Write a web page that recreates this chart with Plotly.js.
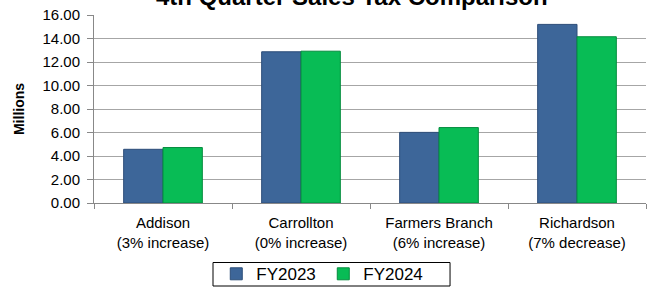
<!DOCTYPE html>
<html>
<head>
<meta charset="utf-8">
<script src="https://cdn.plot.ly/plotly-3.0.1.min.js"></script>
<style>html,body{margin:0;padding:0;background:#fff;}#chart{width:649px;height:295px;}</style>
</head>
<body>
<div id="chart"></div>
<script>
const categories = ["Addison<br>(3% increase)", "Carrollton<br>(0% increase)", "Farmers Branch<br>(6% increase)", "Richardson<br>(7% decrease)"];
const fy2023 = [4.57, 12.87, 6.01, 15.20];
const fy2024 = [4.72, 12.92, 6.42, 14.15];
const seriesNames = ["FY2023", "FY2024"];
const yTicks = [0, 2, 4, 6, 8, 10, 12, 14, 16];

const font = "Arial, 'Liberation Sans', sans-serif";
const data = [
  {type: "bar", name: seriesNames[0], x: categories, y: fy2023,
   marker: {color: "#3D6699", line: {color: "#2C4D78", width: 1}}},
  {type: "bar", name: seriesNames[1], x: categories, y: fy2024,
   marker: {color: "#08BC55", line: {color: "#058C3E", width: 1}}}
];
const layout = {
  width: 649, height: 295,
  margin: {l: 94, r: 3, t: 15, b: 92},
  paper_bgcolor: "#fff", plot_bgcolor: "#fff",
  font: {family: font, color: "#000", size: 15},
  bargap: 0.43, bargroupgap: 0,
  showlegend: true,
  legend: {orientation: "h", x: 0.2215, xanchor: "left", y: -0.379, yanchor: "middle",
           borderwidth: 0, bgcolor: "rgba(0,0,0,0)", font: {size: 17, family: font},
           entrywidth: 62, traceorder: "normal"},
  xaxis: {type: "category", tickson: "boundaries", ticks: "outside", ticklen: 5,
          tickcolor: "#888", showline: true, linecolor: "#888", linewidth: 1,
          showgrid: false, tickfont: {size: 15, family: font}, ticklabelstandoff: 6},
  yaxis: {range: [0, 16], tickvals: yTicks, ticktext: yTicks.map(v => v.toFixed(2)),
          ticks: "outside", ticklen: 6, tickcolor: "#888", showline: true, linecolor: "#888",
          showgrid: true, gridcolor: "#A6A6A6", gridwidth: 1, zeroline: false,
          tickfont: {size: 15, family: font}, ticklabelstandoff: 4,
          title: {text: "<b>Millions</b>", font: {size: 14, family: font}, standoff: 14}},
  shapes: [{type: "rect", xref: "paper", yref: "paper", x0: 0.2156, x1: 0.645, y0: -0.4415, y1: -0.3165,
            line: {color: "#000", width: 1}, fillcolor: "rgba(0,0,0,0)"}],
  annotations: [{text: "<b>4th Quarter Sales Tax Comparison</b>", xref: "paper", yref: "paper",
                 x: 0.4665, y: 1.098, xanchor: "center", yanchor: "middle", showarrow: false,
                 font: {size: 24, family: font, color: "#000"}}]
};
Plotly.newPlot("chart", data, layout, {displayModeBar: false, staticPlot: true});
</script>
</body>
</html>
